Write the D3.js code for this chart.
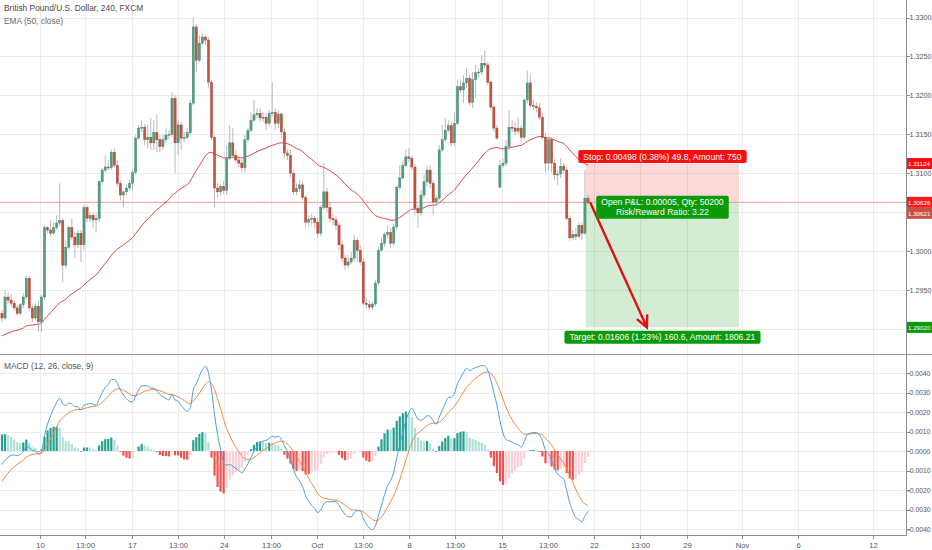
<!DOCTYPE html>
<html>
<head>
<meta charset="utf-8">
<script src="https://cdn.jsdelivr.net/npm/d3@7"></script>
<style>
  body { margin: 0; background: #fff; overflow: hidden; }
  svg { display: block; font-family: "Liberation Sans", Arial, sans-serif; }
</style>
</head>
<body>
<svg id="chart" width="932" height="550"></svg>
<script>
// GBP/USD 4h candles (bar 0 = first visible bar)
const opens = [
  1.2920,1.2914,1.2941,1.2937,1.2933,1.2927,1.2920,1.2931,1.2941,1.2965,
  1.2927,1.2914,1.2929,1.2909,1.2941,1.3030,1.3027,1.3023,1.3030,1.3036,
  1.3039,1.2982,1.3005,1.3030,1.3018,1.3008,1.3023,1.3008,1.3056,1.3042,
  1.3046,1.3040,1.3042,1.3089,1.3104,1.3108,1.3107,1.3127,1.3110,1.3087,
  1.3072,1.3076,1.3081,1.3087,1.3101,1.3145,1.3158,1.3159,1.3143,1.3146,
  1.3139,1.3152,1.3143,1.3134,1.3143,1.3149,1.3150,1.3196,1.3139,1.3162,
  1.3145,1.3146,1.3152,1.3190,1.3288,1.3245,1.3267,1.3275,1.3271,1.3217,
  1.3146,1.3081,1.3076,1.3083,1.3078,1.3119,1.3139,1.3123,1.3117,1.3113,
  1.3107,1.3143,1.3155,1.3168,1.3175,1.3177,1.3171,1.3172,1.3164,1.3177,
  1.3178,1.3164,1.3176,1.3153,1.3126,1.3123,1.3100,1.3076,1.3080,1.3085,
  1.3069,1.3037,1.3041,1.3042,1.3037,1.3023,1.3056,1.3076,1.3056,1.3042,
  1.3040,1.3033,1.3008,1.2991,1.2982,1.2986,1.2991,1.3014,1.3001,1.2986,
  1.2933,1.2931,1.2928,1.2932,1.2959,1.3001,1.3010,1.3021,1.3024,1.3010,
  1.3031,1.3082,1.3094,1.3110,1.3121,1.3119,1.3108,1.3055,1.3049,1.3072,
  1.3089,1.3104,1.3087,1.3063,1.3068,1.3130,1.3143,1.3155,1.3161,1.3139,
  1.3164,1.3211,1.3207,1.3216,1.3222,1.3191,1.3220,1.3229,1.3230,1.3241,
  1.3239,1.3217,1.3185,1.3158,1.3082,1.3110,1.3113,1.3134,1.3159,1.3158,
  1.3154,1.3158,1.3146,1.3194,1.3216,1.3187,1.3186,1.3184,1.3172,1.3146,
  1.3113,1.3143,1.3113,1.3098,1.3099,1.3109,1.3104,1.3042,1.3017,1.3021,
  1.3019,1.3033,1.3023,1.3068
];
const highs = [
  1.2924,1.2950,1.2947,1.2945,1.2937,1.2931,1.2933,1.2946,1.2969,1.2968,
  1.2931,1.2933,1.2937,1.2944,1.3033,1.3032,1.3040,1.3037,1.3046,1.3087,
  1.3042,1.3014,1.3033,1.3042,1.3024,1.3027,1.3027,1.3060,1.3059,1.3050,
  1.3049,1.3048,1.3091,1.3107,1.3123,1.3117,1.3130,1.3132,1.3117,1.3091,
  1.3078,1.3085,1.3091,1.3104,1.3149,1.3162,1.3168,1.3163,1.3162,1.3171,
  1.3168,1.3175,1.3149,1.3149,1.3158,1.3155,1.3204,1.3200,1.3168,1.3166,
  1.3153,1.3158,1.3194,1.3300,1.3291,1.3277,1.3280,1.3277,1.3275,1.3220,
  1.3149,1.3087,1.3086,1.3090,1.3136,1.3162,1.3158,1.3130,1.3123,1.3119,
  1.3149,1.3159,1.3178,1.3194,1.3184,1.3184,1.3178,1.3177,1.3181,1.3217,
  1.3184,1.3181,1.3178,1.3158,1.3130,1.3130,1.3104,1.3087,1.3091,1.3089,
  1.3072,1.3046,1.3048,1.3045,1.3042,1.3059,1.3113,1.3081,1.3063,1.3048,
  1.3045,1.3037,1.3014,1.2996,1.2995,1.2999,1.3021,1.3017,1.3008,1.2991,
  1.2940,1.2937,1.2935,1.2963,1.3006,1.3017,1.3024,1.3033,1.3030,1.3035,
  1.3085,1.3110,1.3117,1.3130,1.3132,1.3123,1.3112,1.3059,1.3078,1.3098,
  1.3110,1.3110,1.3091,1.3072,1.3136,1.3162,1.3171,1.3168,1.3166,1.3178,
  1.3220,1.3220,1.3226,1.3235,1.3226,1.3230,1.3239,1.3235,1.3252,1.3258,
  1.3243,1.3220,1.3189,1.3162,1.3117,1.3119,1.3143,1.3181,1.3168,1.3166,
  1.3171,1.3162,1.3196,1.3232,1.3226,1.3194,1.3191,1.3190,1.3177,1.3152,
  1.3146,1.3146,1.3119,1.3104,1.3119,1.3113,1.3108,1.3046,1.3027,1.3030,
  1.3037,1.3037,1.3104,1.3072
];
const lows = [
  1.2909,1.2911,1.2932,1.2929,1.2923,1.2917,1.2917,1.2927,1.2937,1.2924,
  1.2909,1.2911,1.2896,1.2896,1.2937,1.3023,1.3019,1.3021,1.3027,1.3032,
  1.2960,1.2978,1.3001,1.3014,1.2991,1.3004,1.2986,1.3001,1.3037,1.3037,
  1.3030,1.3024,1.3037,1.3085,1.3101,1.3104,1.3104,1.3108,1.3083,1.3065,
  1.3056,1.3072,1.3078,1.3078,1.3098,1.3143,1.3153,1.3136,1.3132,1.3130,
  1.3130,1.3127,1.3127,1.3130,1.3139,1.3143,1.3146,1.3100,1.3123,1.3130,
  1.3140,1.3143,1.3148,1.3187,1.3230,1.3243,1.3265,1.3265,1.3209,1.3143,
  1.3055,1.3069,1.3071,1.3073,1.3072,1.3117,1.3119,1.3113,1.3108,1.3101,
  1.3101,1.3139,1.3153,1.3166,1.3171,1.3166,1.3166,1.3155,1.3160,1.3173,
  1.3155,1.3158,1.3145,1.3119,1.3117,1.3094,1.3072,1.3072,1.3076,1.3065,
  1.3030,1.3032,1.3033,1.3030,1.3017,1.3019,1.3053,1.3050,1.3037,1.3033,
  1.3027,1.3001,1.2986,1.2976,1.2978,1.2983,1.2986,1.2986,1.2982,1.2929,
  1.2926,1.2924,1.2924,1.2929,1.2956,1.2999,1.3006,1.3017,1.3004,1.3006,
  1.3027,1.3078,1.3091,1.3108,1.3114,1.3104,1.3046,1.3030,1.3045,1.3068,
  1.3083,1.3081,1.3046,1.3059,1.3065,1.3127,1.3140,1.3152,1.3135,1.3135,
  1.3162,1.3204,1.3190,1.3209,1.3187,1.3184,1.3196,1.3222,1.3226,1.3235,
  1.3213,1.3181,1.3153,1.3143,1.3081,1.3107,1.3109,1.3130,1.3153,1.3149,
  1.3150,1.3140,1.3143,1.3190,1.3184,1.3181,1.3178,1.3168,1.3143,1.3101,
  1.3104,1.3101,1.3091,1.3085,1.3094,1.3100,1.3040,1.3013,1.3014,1.3014,
  1.3017,1.3014,1.3021,1.3059
];
const closes = [
  1.2914,1.2941,1.2937,1.2933,1.2927,1.2920,1.2931,1.2941,1.2965,1.2927,
  1.2914,1.2929,1.2909,1.2941,1.3030,1.3027,1.3023,1.3030,1.3036,1.3039,
  1.2982,1.3005,1.3030,1.3018,1.3008,1.3023,1.3008,1.3056,1.3042,1.3046,
  1.3040,1.3042,1.3089,1.3104,1.3108,1.3107,1.3127,1.3110,1.3087,1.3072,
  1.3076,1.3081,1.3087,1.3101,1.3145,1.3158,1.3159,1.3143,1.3146,1.3139,
  1.3152,1.3143,1.3134,1.3143,1.3149,1.3150,1.3196,1.3139,1.3162,1.3145,
  1.3146,1.3152,1.3190,1.3288,1.3245,1.3267,1.3275,1.3271,1.3217,1.3146,
  1.3081,1.3076,1.3083,1.3078,1.3119,1.3139,1.3123,1.3117,1.3113,1.3107,
  1.3143,1.3155,1.3168,1.3175,1.3177,1.3171,1.3172,1.3164,1.3177,1.3178,
  1.3164,1.3176,1.3153,1.3126,1.3123,1.3100,1.3076,1.3080,1.3085,1.3069,
  1.3037,1.3041,1.3042,1.3037,1.3023,1.3056,1.3076,1.3056,1.3042,1.3040,
  1.3033,1.3008,1.2991,1.2982,1.2986,1.2991,1.3014,1.3001,1.2986,1.2933,
  1.2931,1.2928,1.2932,1.2959,1.3001,1.3010,1.3021,1.3024,1.3010,1.3031,
  1.3082,1.3094,1.3110,1.3121,1.3119,1.3108,1.3055,1.3049,1.3072,1.3089,
  1.3104,1.3087,1.3063,1.3068,1.3130,1.3143,1.3155,1.3161,1.3139,1.3164,
  1.3211,1.3207,1.3216,1.3222,1.3191,1.3220,1.3229,1.3230,1.3241,1.3239,
  1.3217,1.3185,1.3158,1.3145,1.3110,1.3113,1.3134,1.3159,1.3158,1.3154,
  1.3158,1.3146,1.3194,1.3216,1.3187,1.3186,1.3184,1.3172,1.3146,1.3113,
  1.3143,1.3113,1.3098,1.3099,1.3109,1.3104,1.3042,1.3017,1.3021,1.3019,
  1.3033,1.3023,1.3068,1.30621
];

// indicator values at the first visible bar
const emaSeed = 1.2891;
const fastSeed = 1.2919, slowSeed = 1.2926, signalSeed = -0.00155;

// axes
const priceTicks = [1.2900, 1.2950, 1.3000, 1.3050, 1.3100, 1.3150, 1.3200, 1.3250, 1.3300];
const macdTicks = [-0.004, -0.003, -0.002, -0.001, 0, 0.001, 0.002, 0.003, 0.004];
const timeTickBars = [12.5, 27.3, 42.8, 58.0, 73.1, 88.6, 103.7, 118.9, 134.0, 149.2, 164.7, 179.8, 195.0, 210.1, 225.6, 243.7, 262.2, 286.9];
const timeTickLabels = ["10", "13:00", "17", "13:00", "24", "13:00", "Oct", "13:00", "8", "13:00", "15", "13:00", "22", "13:00", "29", "Nov", "6", "12"];

// short position tool
const stopPrice = 1.31124, entryPrice = 1.30626, targetPrice = 1.29020;
const tradeBars = [192.3, 242.7];
const arrowBars = [193.7, 212.4];
const stopText = "Stop: 0.00498 (0.38%) 49.8, Amount: 750";
const entryText = ["Open P&L: 0.00005, Qty: 50200", "Risk/Reward Ratio: 3.22"];
const targetText = "Target: 0.01606 (1.23%) 160.6, Amount: 1806.21";

const svg = d3.select("#chart");
const W = 932, axisX = 906;
const mainTop = 0, mainBottom = 354, macdTop = 356, macdBottom = 535;

const x = d3.scaleLinear().domain([0, closes.length - 1]).range([2, 588]);
const y = d3.scaleLinear().domain([1.2950, 1.3300]).range([290, 17.5]);
const ym = d3.scaleLinear().domain([-0.004, 0.004]).range([529, 373]);

// indicators
const k50 = 2 / 51;
let e = emaSeed;
const ema = closes.map((c, i) => (i === 0 ? e : (e = c * k50 + e * (1 - k50))));

let f = fastSeed, s = slowSeed, sig = signalSeed;
const macd = [], signal = [], hist = [];
closes.forEach((c, i) => {
  if (i > 0) {
    f = c * 2 / 13 + f * 11 / 13;
    s = c * 2 / 27 + s * 25 / 27;
  }
  const m = f - s;
  if (i > 0) sig = m * 0.2 + sig * 0.8;
  macd.push(m); signal.push(sig); hist.push(m - sig);
});

// clip paths
const defs = svg.append("defs");
defs.append("clipPath").attr("id", "clipMain")
  .append("rect").attr("x", 0).attr("y", mainTop).attr("width", axisX).attr("height", mainBottom - mainTop);
defs.append("clipPath").attr("id", "clipMacd")
  .append("rect").attr("x", 0).attr("y", macdTop).attr("width", axisX).attr("height", macdBottom - macdTop);

/* grid */
const grid = svg.append("g").attr("stroke", "#eaedf0").attr("stroke-width", 1);
grid.selectAll(".vg").data(timeTickBars).join("line")
  .attr("x1", d => Math.round(x(d)) + 0.5).attr("x2", d => Math.round(x(d)) + 0.5)
  .attr("y1", 0).attr("y2", macdBottom);
grid.selectAll(".hg").data(priceTicks).join("line")
  .attr("x1", 0).attr("x2", axisX)
  .attr("y1", d => Math.round(y(d)) + 0.5).attr("y2", d => Math.round(y(d)) + 0.5);
grid.selectAll(".mg").data(macdTicks).join("line")
  .attr("x1", 0).attr("x2", axisX)
  .attr("y1", d => Math.round(ym(d)) + 0.5).attr("y2", d => Math.round(ym(d)) + 0.5);

/* main pane */
const main = svg.append("g").attr("clip-path", "url(#clipMain)");

// position tool zones
const bx0 = x(tradeBars[0]), bx1 = x(tradeBars[1]);
main.append("rect").attr("x", bx0).attr("width", bx1 - bx0)
  .attr("y", y(stopPrice)).attr("height", y(entryPrice) - y(stopPrice))
  .attr("fill", "rgba(245,60,60,0.2)");
main.append("rect").attr("x", bx0).attr("width", bx1 - bx0)
  .attr("y", y(entryPrice)).attr("height", y(targetPrice) - y(entryPrice))
  .attr("fill", "rgba(40,160,40,0.2)");

// entry line
main.append("line").attr("x1", 0).attr("x2", axisX)
  .attr("y1", y(entryPrice)).attr("y2", y(entryPrice))
  .attr("stroke", "#f09088").attr("stroke-width", 0.9);

// EMA 50
main.append("path").datum(ema)
  .attr("fill", "none").attr("stroke", "#e2434b").attr("stroke-width", 1)
  .attr("d", d3.line().x((d, i) => x(i)).y(d => y(d)).curve(d3.curveMonotoneX));

// candles
const candles = main.selectAll(".candle").data(closes).join("g").attr("class", "candle");
candles.append("line")
  .attr("x1", (d, i) => x(i)).attr("x2", (d, i) => x(i))
  .attr("y1", (d, i) => y(highs[i])).attr("y2", (d, i) => y(lows[i]))
  .attr("stroke", "#a8a8a8").attr("stroke-width", 0.8);
candles.append("rect")
  .attr("x", (d, i) => x(i) - 1.1).attr("width", 2.2)
  .attr("y", (d, i) => y(Math.max(opens[i], d)))
  .attr("height", (d, i) => Math.max(1, Math.abs(y(opens[i]) - y(d))))
  .attr("fill", (d, i) => (d >= opens[i] ? "#519e82" : "#c4533f"))
  .attr("stroke", (d, i) => (d >= opens[i] ? "#3d8068" : "#a33d2c"))
  .attr("stroke-width", 0.4);

// arrow
const ax0 = x(arrowBars[0]), ay0 = y(entryPrice), ax1 = x(arrowBars[1]), ay1 = y(targetPrice);
const ang = Math.atan2(ay1 - ay0, ax1 - ax0);
const head = 13;
main.append("path")
  .attr("d", `M${ax0},${ay0}L${ax1},${ay1}` +
    `M${ax1 - head * Math.cos(ang - 0.45)},${ay1 - head * Math.sin(ang - 0.45)}L${ax1},${ay1}` +
    `L${ax1 - head * Math.cos(ang + 0.45)},${ay1 - head * Math.sin(ang + 0.45)}`)
  .attr("fill", "none").attr("stroke", "#e01010").attr("stroke-width", 2.4)
  .attr("stroke-linejoin", "miter");

// labels of the position tool
const cx = (bx0 + bx1) / 2;
function tag(g, lines, cy, fill) {
  const t = g.append("text").attr("fill", "#fff").attr("font-size", 8.6)
    .attr("text-anchor", "middle");
  lines.forEach((s, i) => t.append("tspan").attr("x", cx)
    .attr("y", cy + (i - (lines.length - 1) / 2) * 10 + 3).text(s));
  const bb = t.node().getBBox();
  g.insert("rect", "text")
    .attr("x", bb.x - 5).attr("y", cy - (lines.length * 10 + 3) / 2)
    .attr("width", bb.width + 10).attr("height", lines.length * 10 + 3)
    .attr("rx", 2).attr("fill", fill);
}
const labels = svg.append("g");
tag(labels.append("g"), [stopText], y(stopPrice) - 7, "#f50f0f");
tag(labels.append("g"), entryText, y(entryPrice) + 5, "#0a9a0a");
tag(labels.append("g"), [targetText], y(targetPrice) + 10, "#0a9a0a");

// legend
svg.append("text").attr("x", 4).attr("y", 11).attr("font-size", 8.4)
  .attr("fill", "#4a4a4a").text("British Pound/U.S. Dollar, 240, FXCM");
svg.append("text").attr("x", 4).attr("y", 24).attr("font-size", 8.4)
  .attr("fill", "#6a6a6a").text("EMA (50, close)");

/* MACD pane */
const mp = svg.append("g").attr("clip-path", "url(#clipMacd)");
mp.selectAll(".hb").data(hist).join("rect")
  .attr("x", (d, i) => x(i) - 1.1).attr("width", 2.2)
  .attr("y", d => Math.min(ym(d), ym(0)))
  .attr("height", d => Math.max(0.8, Math.abs(ym(d) - ym(0))))
  .attr("fill", (d, i) => {
    const p = i > 0 ? hist[i - 1] : d - 1;
    if (d >= 0) return d >= p ? "#26a08f" : "#b2dfd9";
    return d < p ? "#ef5350" : "#fccfd6";
  });
const ml = d3.line().x((d, i) => x(i)).y(d => ym(d)).curve(d3.curveMonotoneX);
mp.append("path").datum(signal).attr("fill", "none")
  .attr("stroke", "#f3893a").attr("stroke-width", 1).attr("d", ml);
mp.append("path").datum(macd).attr("fill", "none")
  .attr("stroke", "#4a9fe3").attr("stroke-width", 1).attr("d", ml);
svg.append("text").attr("x", 4).attr("y", 369).attr("font-size", 8.4)
  .attr("fill", "#555").text("MACD (12, 26, close, 9)");

/* pane separator and axes */
svg.append("line").attr("x1", 0).attr("x2", W).attr("y1", 354.5).attr("y2", 354.5)
  .attr("stroke", "#9a9a9a").attr("stroke-width", 1);
svg.append("line").attr("x1", axisX + 0.5).attr("x2", axisX + 0.5).attr("y1", 0).attr("y2", macdBottom)
  .attr("stroke", "#8c8c8c").attr("stroke-width", 1);
svg.append("line").attr("x1", 0).attr("x2", axisX + 1).attr("y1", macdBottom + 0.5).attr("y2", macdBottom + 0.5)
  .attr("stroke", "#8c8c8c").attr("stroke-width", 1);

// price tags on the right axis
const lastClose = closes[closes.length - 1];
const tags = [
  { v: stopPrice, y: y(stopPrice), fill: "#f50f0f" },
  { v: entryPrice, y: y(entryPrice), fill: "#f31c1c" },
  { v: lastClose, y: y(entryPrice) + 11, fill: "#c8503f" },
  { v: targetPrice, y: y(targetPrice), fill: "#0a9a0a" }
];

// price axis
const pa = svg.append("g").attr("font-size", 7.2).attr("fill", "#555");
priceTicks.filter(t => tags.every(g => Math.abs(y(t) - g.y) > 9)).forEach(t => {
  pa.append("line").attr("x1", axisX + 1).attr("x2", axisX + 4)
    .attr("y1", Math.round(y(t)) + 0.5).attr("y2", Math.round(y(t)) + 0.5).attr("stroke", "#8c8c8c");
  pa.append("text").attr("x", axisX + 3.5).attr("y", y(t) + 2.6).text(t.toFixed(4));
});
const tg = svg.append("g");
tags.forEach(g => {
  tg.append("rect").attr("x", axisX + 1).attr("y", g.y - 5.5).attr("width", W - axisX - 1).attr("height", 11)
    .attr("fill", g.fill);
  tg.append("text").attr("x", axisX + 2).attr("y", g.y + 2.4).attr("font-size", 6.2)
    .attr("fill", "#fff").text(g.v.toFixed(5));
});

// MACD axis
const ma = svg.append("g").attr("font-size", 6.8).attr("fill", "#555");
macdTicks.forEach(t => {
  ma.append("line").attr("x1", axisX + 1).attr("x2", axisX + 4)
    .attr("y1", Math.round(ym(t)) + 0.5).attr("y2", Math.round(ym(t)) + 0.5).attr("stroke", "#8c8c8c");
  ma.append("text").attr("x", t < 0 ? axisX + 1.5 : axisX + 3.5).attr("y", ym(t) + 2.5)
    .text(t.toFixed(4));
});

// time axis
const ta = svg.append("g").attr("font-size", 7.6).attr("fill", "#555").attr("text-anchor", "middle");
timeTickBars.forEach((b, i) => {
  const xx = Math.round(x(b)) + 0.5;
  ta.append("line").attr("x1", xx).attr("x2", xx).attr("y1", macdBottom + 1).attr("y2", macdBottom + 4)
    .attr("stroke", "#8c8c8c");
  ta.append("text").attr("x", xx).attr("y", macdBottom + 13).text(timeTickLabels[i]);
});
</script>
</body>
</html>
